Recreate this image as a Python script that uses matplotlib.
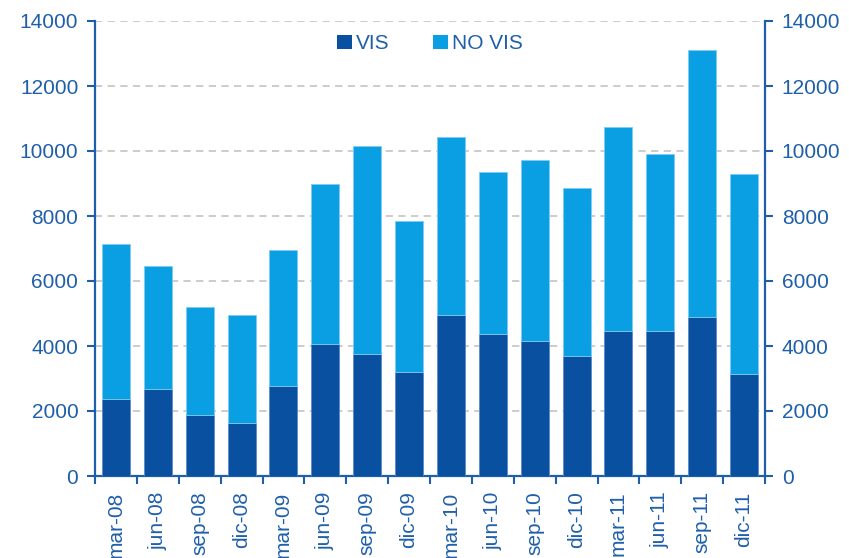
import matplotlib
matplotlib.use("Agg")
import matplotlib.pyplot as plt
from matplotlib.patches import Patch
import numpy as np

categories = ["mar-08", "jun-08", "sep-08", "dic-08",
              "mar-09", "jun-09", "sep-09", "dic-09",
              "mar-10", "jun-10", "sep-10", "dic-10",
              "mar-11", "jun-11", "sep-11", "dic-11"]
vis = [2380, 2690, 1890, 1630, 2760, 4070, 3760, 3200,
       4950, 4380, 4140, 3700, 4450, 4450, 4900, 3140]
total = [7150, 6460, 5210, 4950, 6960, 8970, 10160, 7850,
         10420, 9350, 9720, 8850, 10730, 9920, 13110, 9280]
no_vis = [t - v for t, v in zip(total, vis)]

dark = "#0A50A1"
light = "#0A9EE3"
text_c = "#1F5FAA"

plt.rcParams["font.family"] = ["Liberation Sans", "DejaVu Sans"]

fig = plt.figure(figsize=(8.49, 5.58), dpi=100)
ax = fig.add_axes([95 / 849, 1 - 476 / 558, 670 / 849, 455 / 558])

x = np.arange(len(categories))
w = 0.67
ax.bar(x, vis, width=w, color=dark, edgecolor="#5B8CC8", linewidth=0.6, zorder=3)
ax.bar(x, no_vis, bottom=vis, width=w, color=light, edgecolor="#7FCBF2",
       linewidth=0.6, zorder=3)

ax.set_xlim(-0.5, len(categories) - 0.5)
ax.set_ylim(0, 14000)
ax.set_yticks(np.arange(0, 14001, 2000))
ax.yaxis.grid(True, color="#C8C8C8", linestyle=(0, (4, 3)), linewidth=1.3, zorder=0)
ax.set_axisbelow(True)

ax.set_xticks(x)
ax.set_xticklabels(categories, rotation=90, fontsize=15, color=text_c)
ax.set_xticks(np.arange(-0.5, len(categories), 1), minor=True)
ax.tick_params(axis="x", which="major", length=0, pad=11)
ax.tick_params(axis="x", which="minor", length=6, width=1.5, color=text_c, direction="out")

ax.tick_params(axis="y", which="major", left=True, right=True, labelleft=True,
               labelright=True, length=6, width=1.5, color=text_c,
               labelsize=15, labelcolor=text_c, pad=6)

for side in ("left", "right", "bottom"):
    ax.spines[side].set_color(text_c)
    ax.spines[side].set_linewidth(1.6)
ax.spines["top"].set_visible(False)

handles = [Patch(facecolor=dark, label="VIS"), Patch(facecolor=light, label="NO VIS")]
leg = ax.legend(handles=handles, loc="upper center", bbox_to_anchor=(0.5, 1.012),
                ncol=2, frameon=False, fontsize=15, handlelength=0.7,
                handleheight=0.7, handletextpad=0.2, columnspacing=2.1)
for t in leg.get_texts():
    t.set_color(text_c)

fig.savefig("out.png", dpi=100)
